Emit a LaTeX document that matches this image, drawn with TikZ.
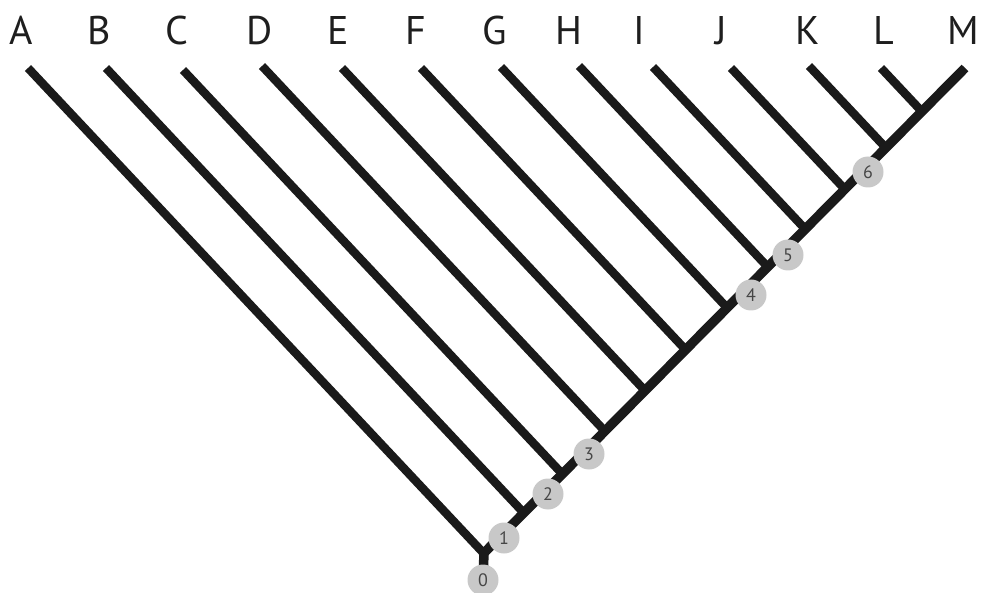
\documentclass[tikz,border=0pt]{standalone}
\usepackage{fontspec}
\setmainfont{PT Sans}
\usetikzlibrary{calc}
\definecolor{branch}{RGB}{26,26,26}
\definecolor{nodefill}{RGB}{200,200,200}
\definecolor{digit}{RGB}{70,70,70}
\definecolor{labelc}{RGB}{30,30,30}
\tikzset{
  tipline/.style={line width=8.5pt, draw=branch, line cap=butt},
  mainline/.style={line width=9.5pt, draw=branch, line cap=butt},
  taxon/.style={anchor=base, inner sep=0pt, text=labelc, font=\fontsize{40}{40}\selectfont},
  numnode/.style={circle, fill=nodefill, minimum size=31pt, inner sep=0pt, text=digit, font=\fontsize{18}{18}\selectfont}
}
\begin{document}
\begin{tikzpicture}[x=1pt,y=-1pt]
\useasboundingbox (0,0) rectangle (982,593);
% root and main branch
\coordinate (R) at (484,553);
\coordinate (tM) at (965,68);
% taxon labels
\foreach \n/\x in {A/21,B/99,C/177,D/260,E/338,F/416,G/495,H/569,I/639,J/721,K/808,L/884,M/963}{
  \node[taxon] (l\n) at (\x,45) {\n};
}
\coordinate (c0pos) at (483,580);
% tip branches (each runs down-right until it meets the main branch)
\foreach \n/\x/\y in {A/28/68,B/106/68,C/183/70,D/262/66,E/342/68,F/421/68,G/501/67,H/579/66,I/653/67,J/731/68,K/809/66,L/881/68}{
  \coordinate (t\n) at (\x,\y);
  \pgfmathsetmacro\s{(37.54-\y+1.065*\x)/997.27}
  \coordinate (j\n) at ($(R)!\s!(tM)$);
  \draw[tipline] (t\n) -- (j\n);
}
% stem and main line
\draw[mainline] (R) -- (c0pos);
\draw[mainline] (R) -- (tM);
% numbered nodes
\node[numnode] (c0) at (c0pos) {0};
\node[numnode] (c1) at (504,538) {1};
\node[numnode] (c2) at (548,494) {2};
\node[numnode] (c3) at (589,454) {3};
\node[numnode] (c4) at (751,295) {4};
\node[numnode] (c5) at (788,255) {5};
\node[numnode] (c6) at (868,172) {6};
\end{tikzpicture}
\end{document}
